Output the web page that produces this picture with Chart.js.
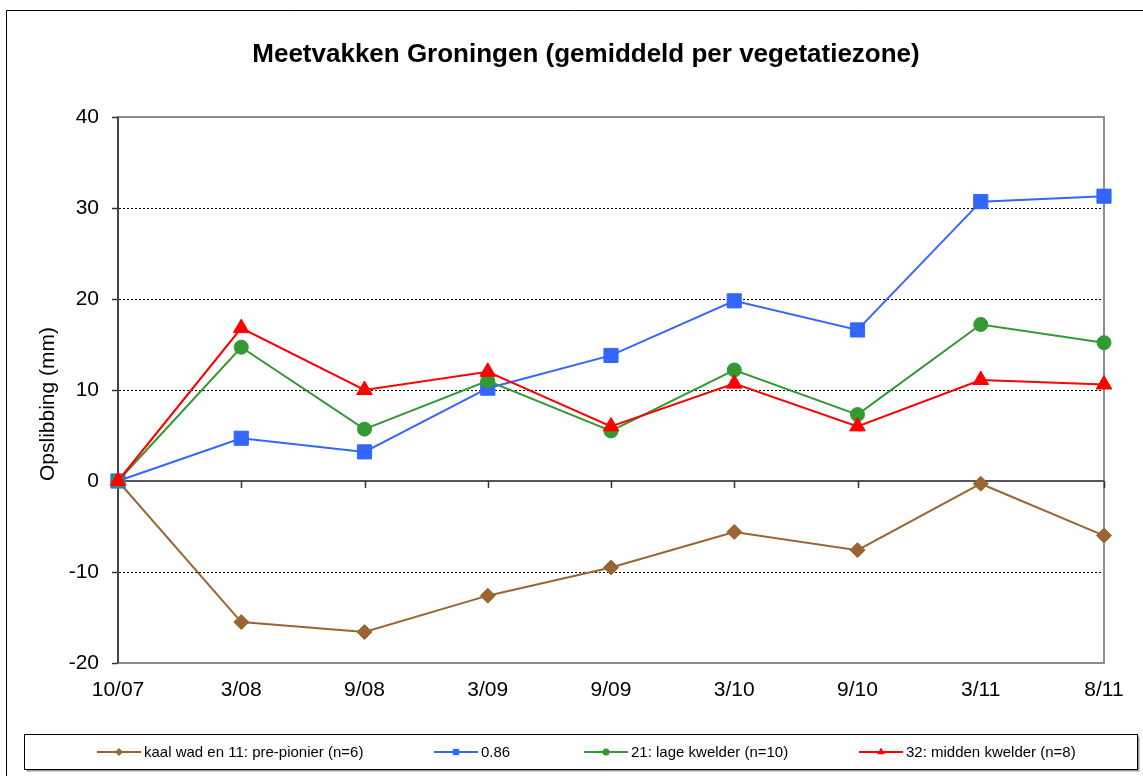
<!DOCTYPE html>
<html>
<head>
<meta charset="utf-8">
<script src="https://cdn.jsdelivr.net/npm/chart.js@4.4.1/dist/chart.umd.min.js"></script>
<style>
  html, body { margin: 0; padding: 0; background: #ffffff; }
  #wrap { width: 1143px; height: 776px; position: relative; }
</style>
</head>
<body>
<div id="wrap"><canvas id="c" width="1143" height="776"></canvas></div>
<script>
// ---- data ----
const categories = ['10/07', '3/08', '9/08', '3/09', '9/09', '3/10', '9/10', '3/11', '8/11'];
const kaalWad = [0, -15.5, -16.6, -12.6, -9.5, -5.6, -7.6, -0.3, -6.0];
const serie086 = [0, 4.7, 3.2, 10.2, 13.8, 19.8, 16.6, 30.7, 31.3];
const lageKwelder = [0, 14.7, 5.7, 11.0, 5.5, 12.2, 7.3, 17.2, 15.2];
const middenKwelder = [0, 16.8, 10.0, 12.0, 6.0, 10.7, 6.0, 11.1, 10.6];
const seriesNames = ['kaal wad en 11: pre-pionier (n=6)', '0.86', '21: lage kwelder (n=10)', '32: midden kwelder (n=8)'];
const yTicks = [-20, -10, 0, 10, 20, 30, 40];
const chartTitle = 'Meetvakken Groningen (gemiddeld per vegetatiezone)';
const yAxisTitle = 'Opslibbing (mm)';

const FONT = '"Liberation Sans", Arial, Helvetica, sans-serif';
const colors = ['#996633', '#3366FF', '#339933', '#FF0000'];
const styles = ['rectRot', 'rect', 'circle', 'triangle'];
const radii = [7.5, 10, 7, 9];
const legendRadii = [4, 4.5, 3.5, 4.5];
const legendStarts = [97, 434, 584, 859];

function mkDs(i, data, order) {
  return {
    label: seriesNames[i],
    data: data,
    borderColor: colors[i],
    backgroundColor: colors[i],
    borderWidth: 2,
    pointStyle: styles[i],
    pointRadius: radii[i],
    pointHoverRadius: radii[i],
    pointBorderWidth: 1,
    pointBackgroundColor: colors[i],
    pointBorderColor: colors[i],
    tension: 0,
    clip: false,
    order: order
  };
}

const decorPlugin = {
  id: 'decor',
  beforeDraw(chart) {
    const ctx = chart.ctx;
    ctx.save();
    ctx.fillStyle = '#ffffff';
    ctx.fillRect(0, 0, chart.width, chart.height);
    // outer frame
    ctx.strokeStyle = '#000000';
    ctx.lineWidth = 1;
    ctx.beginPath();
    ctx.moveTo(6.5, chart.height);
    ctx.lineTo(6.5, 10.5);
    ctx.lineTo(chart.width, 10.5);
    ctx.stroke();
    // title
    ctx.fillStyle = '#000000';
    ctx.font = 'bold 26px ' + FONT;
    ctx.textAlign = 'center';
    ctx.textBaseline = 'middle';
    ctx.fillText(chartTitle, 586, 55);
    // y axis title
    ctx.translate(48, 404);
    ctx.rotate(-Math.PI / 2);
    ctx.font = '21px ' + FONT;
    ctx.fillText(yAxisTitle, 0, 0);
    ctx.restore();
  },
  beforeDatasetsDraw(chart) {
    const ctx = chart.ctx;
    const a = chart.chartArea;
    const xs = chart.scales.x, ys = chart.scales.y;
    ctx.save();
    // plot border (top, right, bottom)
    ctx.strokeStyle = '#8c8c8c';
    ctx.lineWidth = 2;
    ctx.beginPath();
    ctx.moveTo(a.left, a.top);
    ctx.lineTo(a.right, a.top);
    ctx.lineTo(a.right, a.bottom);
    ctx.lineTo(a.left, a.bottom);
    ctx.stroke();
    // zero line with tick marks
    const y0 = ys.getPixelForValue(0);
    ctx.strokeStyle = '#555555';
    ctx.lineWidth = 2;
    ctx.beginPath();
    ctx.moveTo(a.left, y0);
    ctx.lineTo(a.right, y0);
    ctx.stroke();
    ctx.lineWidth = 1.5;
    ctx.strokeStyle = '#333333';
    ctx.beginPath();
    for (let i = 0; i < categories.length; i++) {
      const x = Math.round(xs.getPixelForValue(i)) + 0.5;
      ctx.moveTo(x, y0);
      ctx.lineTo(x, y0 + 7);
    }
    ctx.stroke();
    // y axis line
    ctx.strokeStyle = '#444444';
    ctx.lineWidth = 2;
    ctx.beginPath();
    ctx.moveTo(a.left, a.top);
    ctx.lineTo(a.left, a.bottom);
    ctx.stroke();
    ctx.restore();
  },
  afterDraw(chart) {
    const ctx = chart.ctx;
    ctx.save();
    // legend box with shadow
    const bx = 24.5, by = 734.5, bw = 1113, bh = 35;
    ctx.fillStyle = '#9a9a9a';
    ctx.fillRect(bx + 2, by + 2, bw, bh);
    ctx.fillStyle = '#ffffff';
    ctx.fillRect(bx, by, bw, bh);
    ctx.strokeStyle = '#000000';
    ctx.lineWidth = 1;
    ctx.strokeRect(bx, by, bw, bh);
    const ly = 752;
    chart.data.datasets.forEach((ds, i) => {
      const x0 = legendStarts[i];
      ctx.strokeStyle = ds.borderColor;
      ctx.lineWidth = 2;
      ctx.beginPath();
      ctx.moveTo(x0, ly);
      ctx.lineTo(x0 + 44, ly);
      ctx.stroke();
      ctx.fillStyle = ds.backgroundColor;
      if (Chart.helpers && Chart.helpers.drawPoint) {
        Chart.helpers.drawPoint(ctx, {pointStyle: ds.pointStyle, radius: legendRadii[i], rotation: 0, borderWidth: 0}, x0 + 22, ly);
      }
      ctx.fillStyle = '#000000';
      ctx.font = '15px ' + FONT;
      ctx.textAlign = 'left';
      ctx.textBaseline = 'middle';
      ctx.fillText(ds.label, x0 + 47, ly + 0.5);
    });
    ctx.restore();
  }
};

new Chart(document.getElementById('c'), {
  type: 'line',
  data: {
    labels: categories,
    datasets: [
      mkDs(0, kaalWad, 4),
      mkDs(1, serie086, 3),
      mkDs(2, lageKwelder, 2),
      mkDs(3, middenKwelder, 1)
    ]
  },
  options: {
    responsive: false,
    animation: false,
    events: [],
    layout: { padding: { top: 117, right: 39, left: 0, bottom: 60 } },
    plugins: {
      legend: { display: false },
      title: { display: false },
      tooltip: { enabled: false }
    },
    scales: {
      x: {
        type: 'category',
        offset: false,
        grid: { display: false, drawTicks: false },
        border: { display: false },
        ticks: {
          color: '#000000',
          font: { family: FONT, size: 21 },
          padding: 15,
          maxRotation: 0,
          autoSkip: false
        },
        afterFit(scale) { scale.height = 53; }
      },
      y: {
        min: -20,
        max: 40,
        afterBuildTicks(scale) { scale.ticks = yTicks.map(v => ({ value: v })); },
        grid: {
          color(ctx) {
            const v = ctx.tick ? ctx.tick.value : null;
            return (v === 40 || v === -20 || v === 0) ? 'rgba(0,0,0,0)' : '#000000';
          },
          lineWidth: 1,
          drawTicks: true,
          tickLength: 6,
          tickColor: '#333333',
          tickWidth: 1.5
        },
        border: { display: true, color: '#444444', width: 2, dash: [2, 2] },
        ticks: {
          color: '#000000',
          font: { family: FONT, size: 21 },
          padding: 13
        },
        afterFit(scale) { scale.width = 118; }
      }
    }
  },
  plugins: [decorPlugin]
});
</script>
</body>
</html>
